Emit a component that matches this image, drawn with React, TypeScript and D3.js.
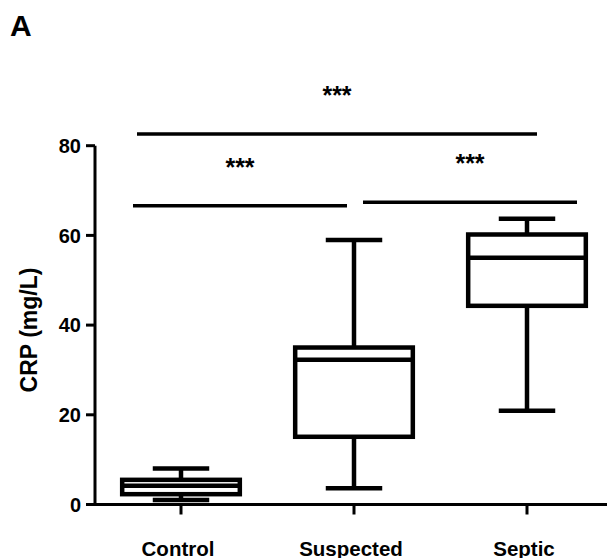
import React from "react";
import * as d3 from "d3";

const categories = ["Control", "Suspected", "Septic"];
const whiskerLow = [1.0, 3.6, 20.9];
const q1 = [2.3, 15.1, 44.3];
const median = [4.2, 32.3, 55.0];
const q3 = [5.5, 35.0, 60.2];
const whiskerHigh = [8.0, 59.0, 63.7];
const yTicks = [0, 20, 40, 60, 80];
const sigFrom = ["Control", "Control", "Suspected"];
const sigTo = ["Septic", "Suspected", "Septic"];
const sigLevel = [82.6, 66.6, 67.4];
const sigLabel = ["***", "***", "***"];

const W = 610;
const H = 558;
const FONT = "'Liberation Sans', Arial, Helvetica, sans-serif";

export default function App() {
  const x = d3.scaleBand<string>().domain(categories).range([94.5, 613.5]).paddingInner(0).paddingOuter(0);
  const y = d3.scaleLinear().domain([0, 80]).range([504.5, 145.7]);
  const cx = (c: string) => (x(c) ?? 0) + x.bandwidth() / 2;
  const boxW = x.bandwidth() * 0.68;
  const capW = boxW * 0.48;
  const sw = 4.5;
  const x0 = 95;
  const y0 = y(0);

  // significance bar horizontal extents relative to category centers
  const sigOffsets: [number, number][] = [[-44, 10], [-48, -7], [9, 50]];

  return (
    <svg width={W} height={H} style={{ position: "absolute", left: 0, top: 0, background: "#fff" }} fontFamily={FONT}>
      <rect x={0} y={0} width={W} height={H} fill="#fff" />
      <text x={10} y={36} fontSize={30} fontWeight="bold" fill="#000">A</text>

      {/* Y axis */}
      <line x1={x0} x2={x0} y1={y(80)} y2={y0 + 1.5} stroke="#000" strokeWidth={3} />
      {yTicks.map((t) => (
        <g key={t}>
          <line x1={x0 - 9} x2={x0} y1={y(t)} y2={y(t)} stroke="#000" strokeWidth={3} />
          <text x={81} y={y(t)} dy="0.36em" textAnchor="end" fontSize={20} fontWeight="bold" fill="#000">{t}</text>
        </g>
      ))}
      <text
        transform={`translate(37, ${330}) rotate(-90)`}
        textAnchor="middle"
        fontSize={23}
        fontWeight="bold"
        fill="#000"
      >CRP (mg/L)</text>

      {/* X axis */}
      <line x1={x0 - 1.5} x2={607} y1={y0} y2={y0} stroke="#000" strokeWidth={3} />
      {categories.map((c) => (
        <g key={c}>
          <line x1={cx(c)} x2={cx(c)} y1={y0} y2={y0 + 10} stroke="#000" strokeWidth={3} />
          <text x={cx(c) - 3} y={556} textAnchor="middle" fontSize={20.5} fontWeight="bold" fill="#000">{c}</text>
        </g>
      ))}

      {/* Boxes */}
      {categories.map((c, i) => {
        const m = cx(c);
        return (
          <g key={c} stroke="#000" strokeWidth={sw} fill="none">
            <line x1={m} x2={m} y1={y(whiskerHigh[i])} y2={y(q3[i])} />
            <line x1={m} x2={m} y1={y(q1[i])} y2={y(whiskerLow[i])} />
            <line x1={m - capW / 2} x2={m + capW / 2} y1={y(whiskerHigh[i])} y2={y(whiskerHigh[i])} />
            <line x1={m - capW / 2} x2={m + capW / 2} y1={y(whiskerLow[i])} y2={y(whiskerLow[i])} />
            <rect x={m - boxW / 2} y={y(q3[i])} width={boxW} height={y(q1[i]) - y(q3[i])} fill="#fff" />
            <line x1={m - boxW / 2} x2={m + boxW / 2} y1={y(median[i])} y2={y(median[i])} />
          </g>
        );
      })}

      {/* Significance */}
      {sigFrom.map((f, i) => {
        const xa = cx(f) + sigOffsets[i][0];
        const xb = cx(sigTo[i]) + sigOffsets[i][1];
        const yy = y(sigLevel[i]);
        return (
          <g key={i}>
            <line x1={xa} x2={xb} y1={yy} y2={yy} stroke="#000" strokeWidth={3.5} />
            <text x={(xa + xb) / 2} y={yy - 30} textAnchor="middle" fontSize={25} fontWeight="bold" fill="#000">{sigLabel[i]}</text>
          </g>
        );
      })}
    </svg>
  );
}
